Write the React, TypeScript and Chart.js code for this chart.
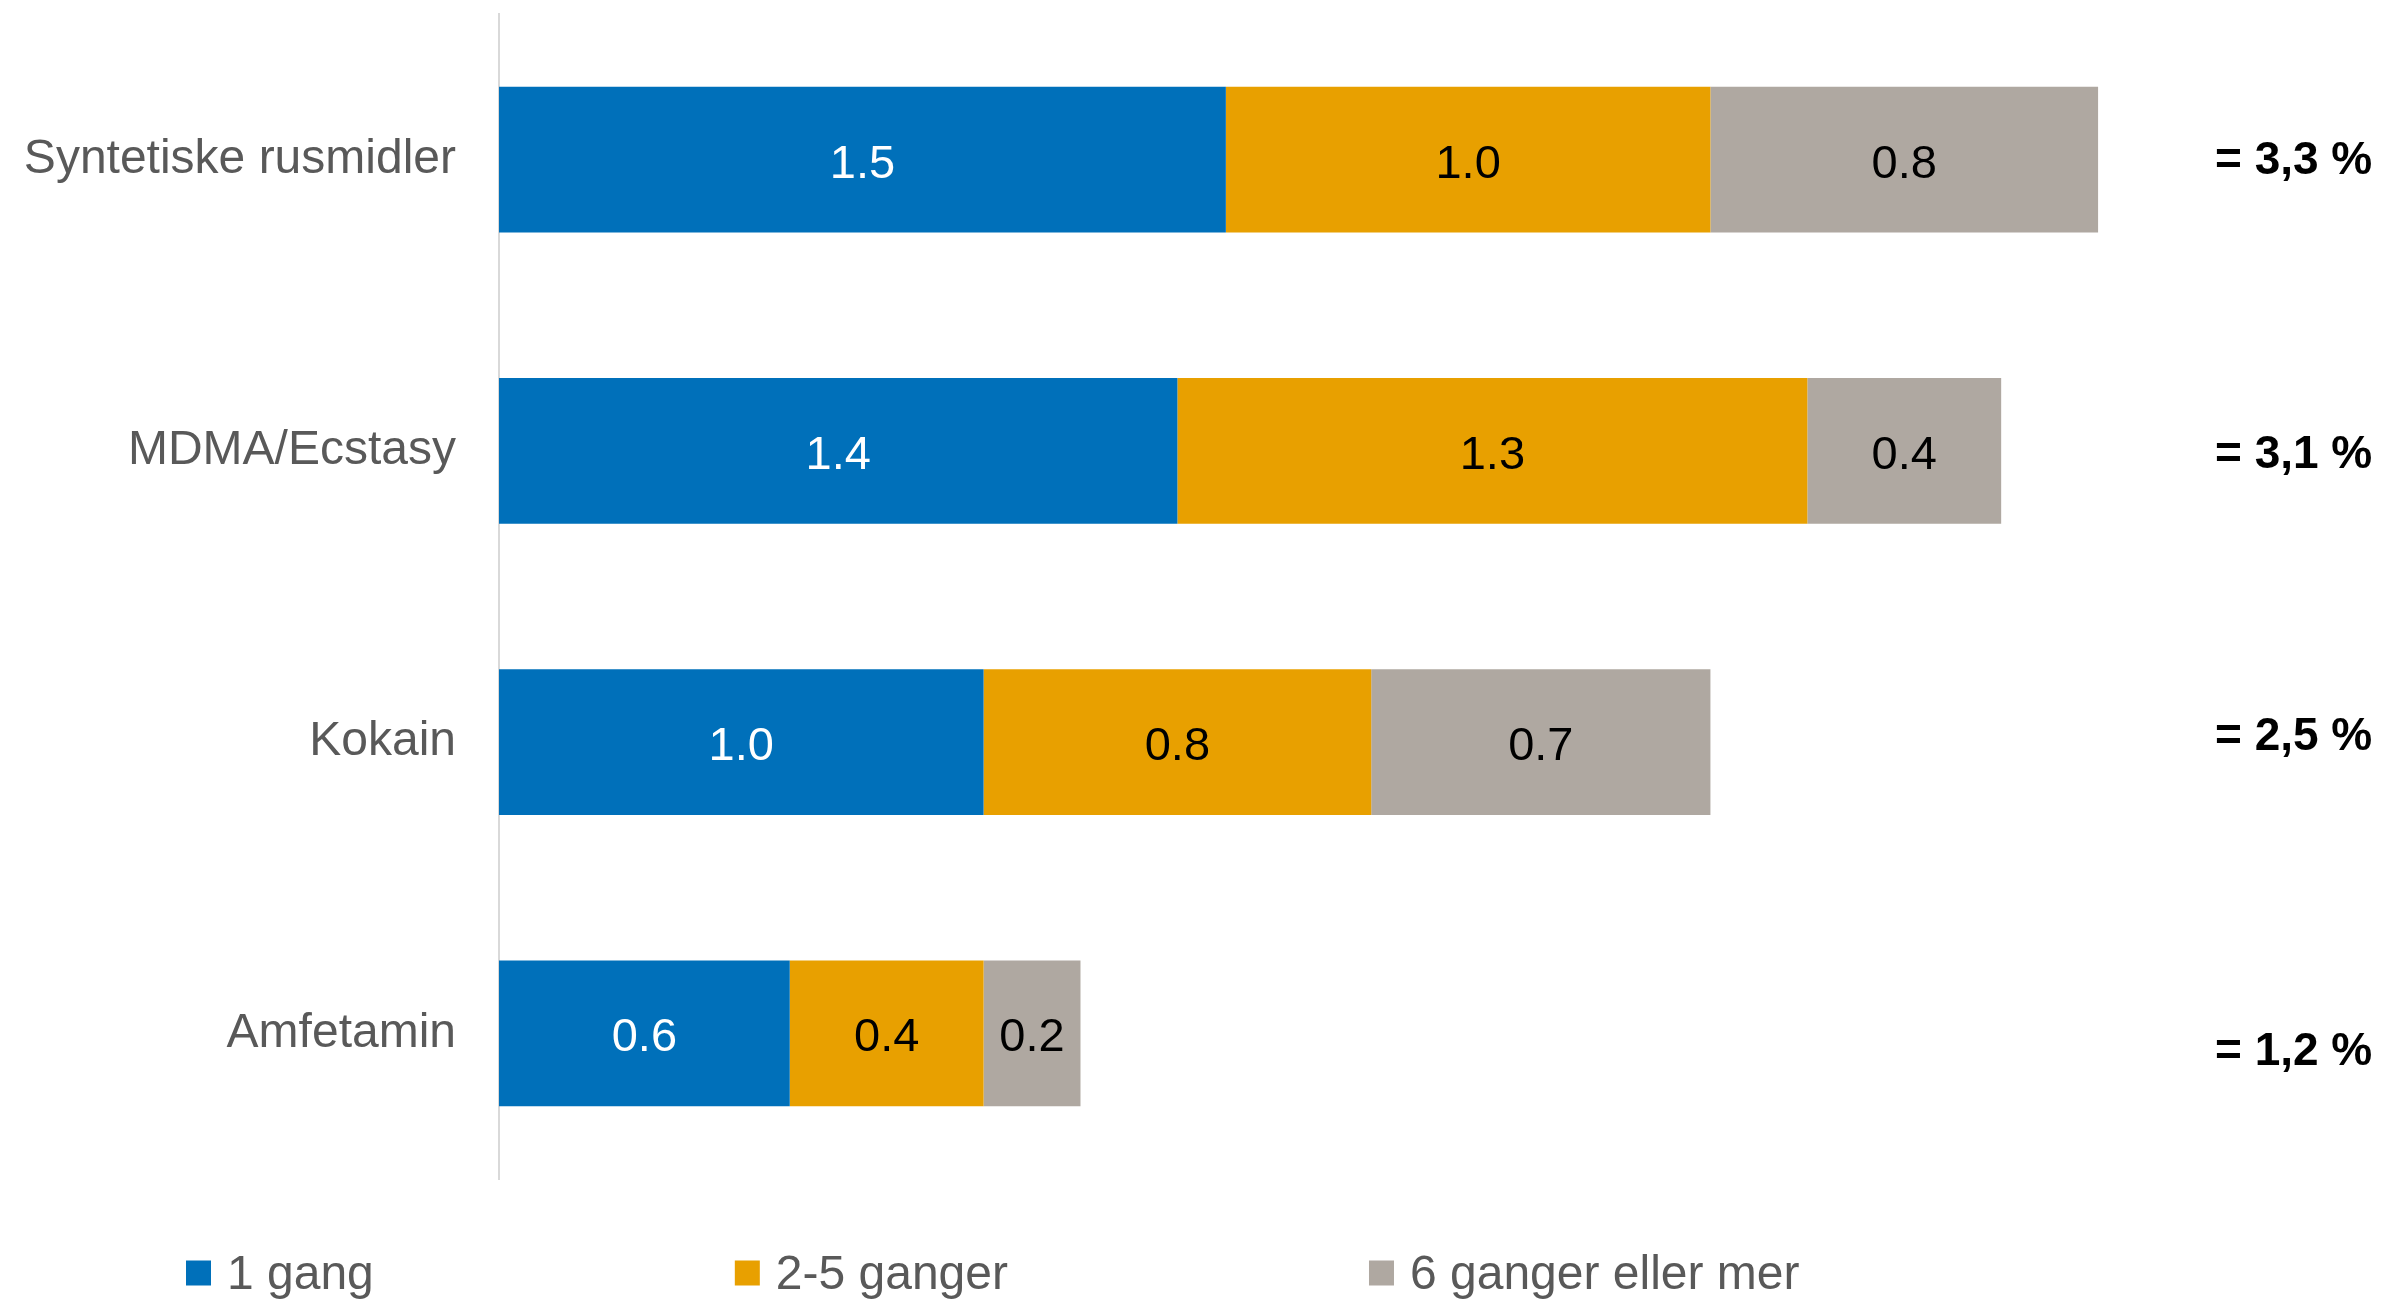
import { useEffect, useRef } from "react";
import { Chart, registerables } from "chart.js";

Chart.register(...registerables);

const categories = ["Syntetiske rusmidler", "MDMA/Ecstasy", "Kokain", "Amfetamin"];
const seriesNames = ["1 gang", "2-5 ganger", "6 ganger eller mer"];
const onceValues = [1.5, 1.4, 1.0, 0.6];
const twoToFiveValues = [1.0, 1.3, 0.8, 0.4];
const sixPlusValues = [0.8, 0.4, 0.7, 0.2];
const totalLabels = ["= 3,3 %", "= 3,1 %", "= 2,5 %", "= 1,2 %"];

const seriesColors = ["#0070BA", "#E8A000", "#AFA8A1"];
const valueLabelColors = ["#FFFFFF", "#000000", "#000000"];
const FONT = "'Liberation Sans', Arial, Helvetica, sans-serif";
const totalYOffsets = [-2, 0, -9, 15];

const overlayPlugin = {
  id: "overlay",
  afterDatasetsDraw(chart: any) {
    const ctx = chart.ctx;
    ctx.save();
    // value labels inside segments
    ctx.font = `47px ${FONT}`;
    ctx.textAlign = "center";
    ctx.textBaseline = "middle";
    chart.data.datasets.forEach((ds: any, di: number) => {
      const meta = chart.getDatasetMeta(di);
      meta.data.forEach((el: any, i: number) => {
        const v = ds.data[i];
        const cx = (el.x + el.base) / 2;
        ctx.fillStyle = valueLabelColors[di];
        ctx.fillText(Number(v).toFixed(1), cx, el.y + 5);
      });
    });
    // totals at right
    const yScale = chart.scales.y;
    ctx.font = `bold 46px ${FONT}`;
    ctx.textAlign = "left";
    ctx.fillStyle = "#000000";
    totalLabels.forEach((t, i) => {
      const y = yScale.getPixelForValue(i) + totalYOffsets[i];
      ctx.fillText(t, 2215, y + 4);
    });
    // legend
    ctx.font = `48px ${FONT}`;
    let x = 186;
    const boxSize = 25;
    const legendY = 1273;
    chart.data.datasets.forEach((ds: any) => {
      ctx.fillStyle = ds.backgroundColor;
      ctx.fillRect(x, legendY - boxSize / 2, boxSize, boxSize);
      ctx.fillStyle = "#595959";
      ctx.textAlign = "left";
      const tx = x + boxSize + 16;
      ctx.fillText(ds.label, tx, legendY + 3);
      x = tx + ctx.measureText(ds.label).width + 361;
    });
    ctx.restore();
  },
};

export default function App() {
  const canvasRef = useRef<HTMLCanvasElement | null>(null);

  useEffect(() => {
    const canvas = canvasRef.current;
    if (!canvas) return;
    const seriesData = [onceValues, twoToFiveValues, sixPlusValues];
    const chart = new Chart(canvas, {
      type: "bar",
      data: {
        labels: categories,
        datasets: seriesNames.map((name, i) => ({
          label: name,
          data: seriesData[i],
          backgroundColor: seriesColors[i],
          borderWidth: 0,
          barPercentage: 1,
          categoryPercentage: 0.5,
        })),
      },
      options: {
        indexAxis: "y",
        responsive: false,
        animation: false,
        devicePixelRatio: 1,
        layout: { padding: { top: 14, bottom: 122, right: 195, left: 0 } },
        scales: {
          x: { stacked: true, min: 0, max: 3.5, display: false },
          y: {
            stacked: true,
            grid: { display: false, drawTicks: false },
            border: { display: true, color: "#D9D9D9", width: 2 },
            ticks: {
              padding: 43,
              color: "#595959",
              font: { family: FONT, size: 48 },
            },
            afterFit: (scale: any) => {
              scale.width = 499;
              scale.paddingTop = 0;
              scale.paddingBottom = 0;
            },
          },
        },
        plugins: {
          legend: { display: false },
          tooltip: { enabled: false },
        },
      },
      plugins: [overlayPlugin],
    } as any);
    return () => chart.destroy();
  }, []);

  return (
    <div style={{ position: "fixed", left: 0, top: 0, width: 2390, height: 1301, background: "#FFFFFF" }}>
      <canvas ref={canvasRef} width={2390} height={1301} style={{ display: "block", width: 2390, height: 1301 }} />
    </div>
  );
}
